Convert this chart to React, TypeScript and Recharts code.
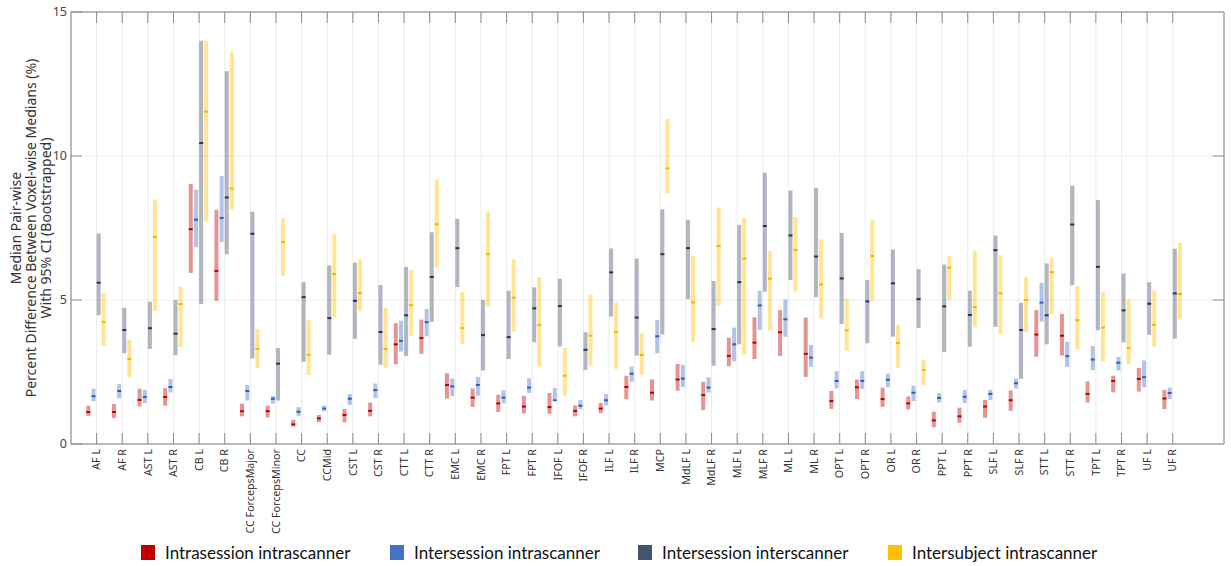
import React from 'react';
import { ComposedChart, Scatter, ErrorBar, XAxis, YAxis, CartesianGrid, Label, ReferenceLine } from 'recharts';

const categories = [
  'AF L', 'AF R', 'AST L', 'AST R', 'CB L', 'CB R', 'CC ForcepsMajor', 'CC ForcepsMinor', 'CC', 'CCMid',
  'CST L', 'CST R', 'CTT L', 'CTT R', 'EMC L', 'EMC R', 'FPT L', 'FPT R', 'IFOF L', 'IFOF R',
  'ILF L', 'ILF R', 'MCP', 'MdLF L', 'MdLF R', 'MLF L', 'MLF R', 'ML L', 'ML R', 'OPT L',
  'OPT R', 'OR L', 'OR R', 'PPT L', 'PPT R', 'SLF L', 'SLF R', 'STT L', 'STT R', 'TPT L',
  'TPT R', 'UF L', 'UF R',
];

// Intrasession intrascanner
const intraMed = [1.11, 1.11, 1.53, 1.63, 7.46, 6.01, 1.14, 1.14, 0.68, 0.89, 1.01, 1.15, 3.46, 3.68, 2.05, 1.61, 1.41, 1.30, 1.28, 1.15, 1.23, 1.98, 1.78, 2.24, 1.70, 3.06, 3.52, 3.88, 3.13, 1.49, 1.97, 1.56, 1.41, 0.82, 0.96, 1.30, 1.52, 3.80, 3.76, 1.74, 2.19, 2.26, 1.58];
const intraLow = [0.98, 0.90, 1.30, 1.33, 5.94, 4.97, 0.96, 0.92, 0.61, 0.76, 0.75, 0.96, 2.77, 3.13, 1.58, 1.29, 1.11, 1.06, 1.05, 0.96, 1.07, 1.55, 1.51, 1.85, 1.18, 2.70, 2.95, 3.06, 2.33, 1.22, 1.56, 1.29, 1.20, 0.58, 0.74, 0.91, 1.15, 3.03, 3.07, 1.44, 1.79, 1.82, 1.21];
const intraHigh = [1.33, 1.39, 1.92, 1.94, 9.03, 8.13, 1.40, 1.33, 0.84, 1.01, 1.22, 1.44, 4.20, 4.32, 2.46, 1.93, 1.71, 1.67, 1.77, 1.34, 1.43, 2.37, 2.24, 2.78, 2.16, 3.69, 4.40, 4.65, 4.39, 1.84, 2.24, 1.96, 1.65, 1.12, 1.26, 1.53, 1.86, 4.65, 4.52, 2.17, 2.37, 2.64, 1.88];

// Intersession intrascanner
const interMed = [1.66, 1.84, 1.63, 1.98, 7.79, 7.85, 1.84, 1.57, 1.12, 1.23, 1.57, 1.87, 3.58, 4.23, 2.00, 2.05, 1.61, 1.96, 1.52, 1.33, 1.52, 2.44, 3.74, 2.27, 1.96, 3.46, 4.81, 4.33, 3.00, 2.19, 2.19, 2.23, 1.78, 1.60, 1.64, 1.74, 2.11, 4.91, 3.05, 2.93, 2.82, 2.32, 1.77];
const interLow = [1.48, 1.59, 1.42, 1.79, 6.83, 7.01, 1.51, 1.40, 0.98, 1.14, 1.36, 1.59, 3.21, 3.74, 1.66, 1.68, 1.41, 1.77, 1.56, 1.21, 1.34, 2.16, 3.15, 1.98, 1.79, 2.87, 3.96, 3.72, 2.68, 1.93, 1.91, 1.97, 1.49, 1.44, 1.42, 1.53, 1.93, 4.25, 2.68, 2.56, 2.55, 1.97, 1.56];
const interHigh = [1.92, 2.08, 1.88, 2.26, 8.83, 9.30, 2.05, 1.67, 1.28, 1.34, 1.73, 2.10, 4.28, 4.69, 2.27, 2.33, 1.86, 2.28, 1.94, 1.53, 1.73, 2.69, 4.30, 2.75, 2.31, 4.04, 5.32, 5.02, 3.44, 2.53, 2.53, 2.44, 2.03, 1.77, 1.88, 1.88, 2.27, 5.60, 3.55, 3.40, 3.02, 2.90, 1.96];

// Intersession interscanner
const scanMed = [5.60, 3.96, 4.02, 3.83, 10.45, 8.56, 7.30, 2.79, 5.10, 4.37, 4.97, 3.89, 4.47, 5.80, 6.80, 3.78, 3.71, 4.71, 4.79, 3.27, 5.96, 4.39, 6.59, 6.80, 3.99, 5.62, 7.57, 7.24, 6.51, 5.75, 4.95, 5.58, 5.03, 4.78, 4.48, 6.73, 3.96, 4.47, 7.62, 6.15, 4.64, 4.87, 5.23];
const scanLow = [4.47, 3.15, 3.30, 3.08, 4.86, 6.59, 2.97, 1.51, 2.85, 3.10, 3.65, 2.75, 3.05, 4.24, 5.45, 2.55, 2.95, 3.53, 3.39, 2.57, 4.43, 3.07, 3.80, 5.03, 2.72, 3.46, 5.29, 5.69, 5.10, 4.17, 3.50, 3.73, 4.03, 3.19, 3.38, 4.07, 2.26, 3.46, 5.51, 3.95, 3.53, 3.79, 3.66];
const scanHigh = [7.31, 4.73, 4.94, 5.00, 14.0, 12.94, 8.06, 3.33, 5.62, 6.20, 6.30, 5.52, 6.15, 7.35, 7.82, 5.00, 5.32, 5.44, 5.74, 3.88, 6.79, 6.44, 8.15, 7.78, 5.66, 7.61, 9.42, 8.80, 8.89, 7.33, 5.69, 6.75, 6.07, 6.23, 5.32, 7.24, 4.90, 6.27, 8.97, 8.47, 5.92, 5.62, 6.78];

// Intersubject intrascanner
const subjMed = [4.24, 2.95, 7.19, 4.86, 11.54, 8.87, 3.30, 7.02, 3.10, 5.90, 5.24, 3.30, 4.82, 7.63, 4.02, 6.59, 5.08, 4.13, 2.37, 3.76, 3.89, 3.09, 9.57, 4.92, 6.88, 6.44, 5.74, 6.74, 5.54, 3.95, 6.53, 3.51, 2.57, 6.12, 4.75, 5.23, 5.00, 5.97, 4.30, 4.04, 3.34, 4.14, 5.21];
const subjLow = [3.40, 2.33, 4.62, 3.37, 7.73, 8.15, 2.64, 5.84, 2.40, 4.41, 4.62, 2.64, 3.76, 6.13, 3.46, 4.77, 3.90, 2.69, 1.68, 2.72, 2.61, 2.40, 8.69, 3.55, 4.79, 3.10, 3.94, 5.30, 4.37, 3.23, 4.97, 2.64, 2.05, 5.01, 4.05, 3.81, 3.88, 4.50, 3.30, 2.86, 2.78, 3.38, 4.33];
const subjHigh = [5.24, 3.62, 8.49, 5.46, 14.0, 13.62, 4.00, 7.84, 4.30, 7.28, 6.41, 4.73, 6.04, 9.19, 5.28, 8.06, 6.41, 5.80, 3.34, 5.18, 4.90, 3.85, 11.28, 6.52, 8.21, 7.85, 6.70, 7.88, 7.11, 5.04, 7.77, 4.14, 2.93, 6.52, 6.70, 6.55, 5.81, 6.46, 5.48, 5.26, 5.01, 5.33, 6.98];

const seriesNames = ['Intrasession intrascanner', 'Intersession intrascanner', 'Intersession interscanner', 'Intersubject intrascanner'];
const seriesColors = ['#c00000', '#4472c4', '#44546a', '#ffc000'];
const markerColors = ['#c00000', '#2f5fb8', '#2a3646', '#ffb000'];
const seriesOffsets = [-0.325, -0.12, 0.08, 0.275];
const yTicks = [0, 5, 10, 15];
const innerYTicks = [5, 10];
const xTicks = categories.map((_, i) => i + 1);
const X_MIN = 0;
const X_MAX = 45;
const Y_MIN = 0;
const Y_MAX = 15;
// inward tick lengths in data units (≈11px)
const X_TICK_LEN = 0.38;
const Y_TICK_LEN = 0.43;

const seriesValues = [
  [intraMed, intraLow, intraHigh],
  [interMed, interLow, interHigh],
  [scanMed, scanLow, scanHigh],
  [subjMed, subjLow, subjHigh],
];

const buildSeries = (k: number) => {
  const [med, low, high] = seriesValues[k];
  return categories.map((c, i) => ({
    name: c,
    x: i + 1 + seriesOffsets[k],
    y: med[i],
    err: [med[i] - low[i], high[i] - med[i]],
  }));
};

const FONT = '"Noto Sans", "DejaVu Sans", sans-serif';
const AXIS = '#a6a6a6';
const TICK = '#8c8c8c';

const XTick = (props: any) => {
  const { x, y, payload } = props;
  return (
    <text
      x={x}
      y={y}
      transform={`rotate(-90, ${x}, ${y})`}
      textAnchor="end"
      dy="0.35em"
      fontSize={10.7}
      fontFamily={FONT}
      fill="#333"
    >
      {categories[payload.value - 1]}
    </text>
  );
};

const YLabel = (props: any) => {
  const vb = props.viewBox || { x: 0, y: 12, width: 71, height: 432 };
  const cx = 31;
  const cy = vb.y + vb.height / 2;
  return (
    <text
      transform={`translate(${cx}, ${cy}) rotate(-90)`}
      textAnchor="middle"
      fontSize={14}
      fontFamily={FONT}
      fill="#333"
    >
      <tspan x={0} dy="-0.72em">Median Pair-wise</tspan>
      <tspan x={0} dy="1.08em">Percent Difference Between Voxel-wise Medians (%)</tspan>
      <tspan x={0} dy="1.08em">With 95% CI (Bootstrapped)</tspan>
    </text>
  );
};

const makeMarker = (color: string) => (props: any) => {
  const { cx, cy } = props;
  if (cx == null || cy == null) return <g />;
  return <rect x={cx - 2} y={cy - 1} width={4} height={2} fill={color} />;
};

export default function App() {
  return (
    <div style={{ position: 'absolute', left: 0, top: 0, width: 1231, height: 566, background: '#fff' }}>
      <ComposedChart width={1231} height={566} margin={{ top: 12, right: 7, bottom: 22, left: 0 }}>
        <CartesianGrid stroke="#ebebeb" strokeWidth={1} />
        <XAxis
          dataKey="x"
          type="number"
          domain={[X_MIN, X_MAX]}
          ticks={xTicks}
          interval={0}
          allowDataOverflow
          height={100}
          axisLine={{ stroke: AXIS, strokeWidth: 1.5 }}
          tickLine={{ stroke: TICK }}
          tickSize={-11}
          tickMargin={16}
          tick={<XTick />}
        />
        <YAxis
          dataKey="y"
          type="number"
          domain={[Y_MIN, Y_MAX]}
          ticks={yTicks}
          interval={0}
          allowDataOverflow
          width={71}
          axisLine={{ stroke: AXIS, strokeWidth: 1.5 }}
          tickLine={{ stroke: TICK }}
          tickSize={-11}
          tickMargin={15}
          tick={{ fontSize: 12.5, fill: '#444', fontFamily: FONT }}
        >
          <Label content={<YLabel />} />
        </YAxis>
        {/* box: top and right borders */}
        <ReferenceLine y={Y_MAX} stroke={AXIS} strokeWidth={1.5} />
        <ReferenceLine x={X_MAX} stroke={AXIS} strokeWidth={1.5} />
        {/* inward ticks on the top border */}
        {xTicks.map((t) => (
          <ReferenceLine
            key={`tt${t}`}
            segment={[{ x: t, y: Y_MAX }, { x: t, y: Y_MAX - X_TICK_LEN }]}
            stroke={TICK}
          />
        ))}
        {/* inward ticks on the right border */}
        {innerYTicks.map((t) => (
          <ReferenceLine
            key={`rt${t}`}
            segment={[{ x: X_MAX, y: t }, { x: X_MAX - Y_TICK_LEN, y: t }]}
            stroke={TICK}
          />
        ))}
        {seriesNames.map((name, k) => (
          <Scatter
            key={name}
            name={name}
            data={buildSeries(k)}
            isAnimationActive={false}
            shape={makeMarker(markerColors[k])}
          >
            <ErrorBar
              dataKey="err"
              direction="y"
              width={0}
              stroke={seriesColors[k]}
              strokeOpacity={0.42}
              strokeWidth={4}
              isAnimationActive={false}
            />
          </Scatter>
        ))}
      </ComposedChart>
      {seriesNames.map((name, k) => (
        <div
          key={name}
          style={{
            position: 'absolute',
            left: [141, 390, 638, 888][k],
            top: 541,
            display: 'flex',
            alignItems: 'center',
            height: 22,
            fontFamily: 'Lato, "Noto Sans", sans-serif',
            fontSize: 17,
            color: '#111',
            whiteSpace: 'nowrap',
          }}
        >
          <span style={{ display: 'inline-block', width: 14, height: 15, background: seriesColors[k], marginRight: 10 }} />
          <span>{name}</span>
        </div>
      ))}
    </div>
  );
}
